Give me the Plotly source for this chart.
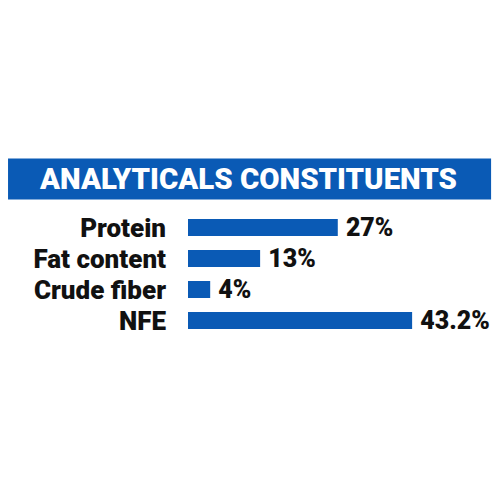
import plotly.graph_objects as go

categories = ["Protein", "Fat content", "Crude fiber", "NFE"]
# bar lengths as drawn in the picture: the NFE bar is shorter than its 43.2% label
values = [27, 13, 4, 40.4]
labels = ["27%", "13%", "4%", "43.2%"]
title = "ANALYTICALS CONSTITUENTS"
blue = "#0a5ab5"
black = "#111111"

fig = go.Figure()
fig.add_trace(go.Bar(
    y=categories,
    x=values,
    orientation="h",
    marker=dict(color=blue, line=dict(width=0)),
    width=0.55,
    text=labels,
    texttemplate="\u2009%{text}",
    textposition="outside",
    constraintext="none",
    cliponaxis=False,
    textfont=dict(family="Roboto", size=25, color=black, weight=900),
))

# title band across the top of the chart
fig.add_shape(type="rect", xref="paper", yref="paper", x0=-0.592, x1=0.997, y0=1.101, y1=1.431,
              fillcolor=blue, line=dict(width=0), layer="below")
fig.add_annotation(text=title, xref="paper", yref="paper", x=0.199, y=1.266,
                   xanchor="center", yanchor="middle", showarrow=False,
                   font=dict(family="Roboto", size=29.4, color="white", weight=900))

# the page adds an 8px body margin, so the figure is 492 wide and the margins are 8 less
fig.update_layout(
    width=492, height=492,
    margin=dict(l=180, r=8, t=204, b=164, autoexpand=False),
    paper_bgcolor="white", plot_bgcolor="white",
    showlegend=False,
    xaxis=dict(visible=False, range=[0, 54.8]),
    yaxis=dict(autorange="reversed", automargin=False, showline=False, ticks="",
               ticklabelstandoff=21,
               tickfont=dict(family="Roboto", size=26, color=black, weight=900)),
)
fig.write_html("out.html")
